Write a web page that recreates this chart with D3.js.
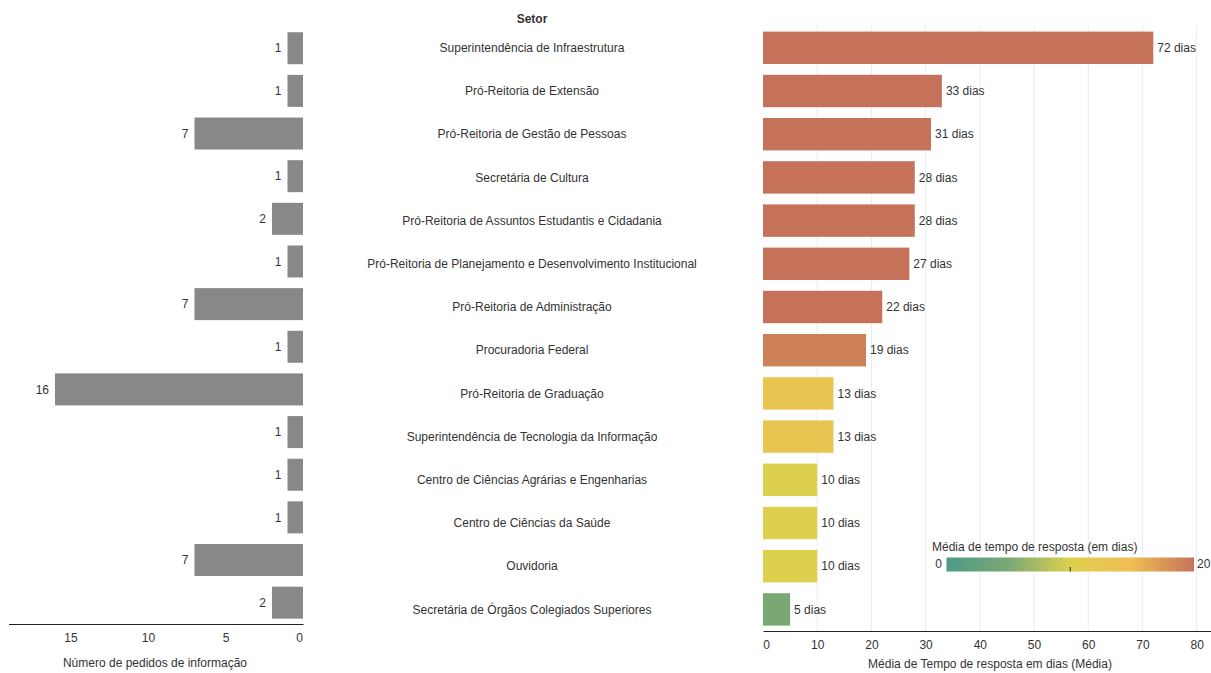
<!DOCTYPE html>
<html>
<head>
<meta charset="utf-8">
<script src="https://cdn.jsdelivr.net/npm/d3@7"></script>
<style>
  html, body { margin: 0; padding: 0; background: #fff; }
  svg text { font-family: "Liberation Sans", Arial, sans-serif; fill: #333; }
</style>
</head>
<body>
<svg id="chart" width="1211" height="673"></svg>
<script>
// Sectors, request counts and mean response time (days)
const setores = [
  "Superintendência de Infraestrutura",
  "Pró-Reitoria de Extensão",
  "Pró-Reitoria de Gestão de Pessoas",
  "Secretária de Cultura",
  "Pró-Reitoria de Assuntos Estudantis e Cidadania",
  "Pró-Reitoria de Planejamento e Desenvolvimento Institucional",
  "Pró-Reitoria de Administração",
  "Procuradoria Federal",
  "Pró-Reitoria de Graduação",
  "Superintendência de Tecnologia da Informação",
  "Centro de Ciências Agrárias e Engenharias",
  "Centro de Ciências da Saúde",
  "Ouvidoria",
  "Secretária de Órgãos Colegiados Superiores"
];
const pedidos = [1, 1, 7, 1, 2, 1, 7, 1, 16, 1, 1, 1, 7, 2];
const mediaDias = [72, 33, 31, 28, 28, 27, 22, 19, 13, 13, 10, 10, 10, 5];
const ticksPedidos = [15, 10, 5, 0];
const ticksDias = [0, 10, 20, 30, 40, 50, 60, 70, 80];
const legendaDominio = [0, 20];

const svg = d3.select("#chart");
const fs = 12;

// Colour ramp for mean response time (clamped at 20 days)
const colorStops = [0, 5, 10, 15, 20];
const colorRange = ["#4d9a89", "#7aa874", "#ddd04e", "#efbd52", "#c6725a"];
const color = d3.scaleLinear().domain(colorStops).range(colorRange).clamp(true);

// ---------- Left panel: number of requests (bars grow leftwards) ----------
const xL = d3.scaleLinear().domain([0, 19]).range([303, 8.5]);
const yL = d3.scaleBand().domain(setores).range([26.9, 624]).paddingInner(0.25).paddingOuter(0.125);

const left = svg.append("g");
left.selectAll("rect").data(setores).join("rect")
  .attr("x", (d, i) => xL(pedidos[i]))
  .attr("y", d => yL(d))
  .attr("width", (d, i) => xL(0) - xL(pedidos[i]))
  .attr("height", yL.bandwidth())
  .attr("fill", "#888888");

left.selectAll("text.val").data(setores).join("text")
  .attr("class", "val")
  .attr("x", (d, i) => xL(pedidos[i]) - 6)
  .attr("y", d => yL(d) + yL.bandwidth() / 2)
  .attr("dy", "0.35em")
  .attr("text-anchor", "end")
  .attr("font-size", fs)
  .text((d, i) => pedidos[i]);

const axL = left.append("g").attr("transform", "translate(0,624)")
  .call(d3.axisBottom(xL).tickValues(ticksPedidos).tickSize(0).tickPadding(9));
axL.select(".domain").attr("stroke", "#222").attr("stroke-width", 1);
axL.selectAll("text").attr("font-size", fs).attr("fill", "#333")
  .attr("font-family", "Liberation Sans, Arial, sans-serif")
  .attr("dx", d => d === 0 ? -4 : 0);

left.append("text")
  .attr("x", 155).attr("y", 663).attr("dy", "0.35em")
  .attr("text-anchor", "middle").attr("font-size", fs)
  .text("Número de pedidos de informação");

// ---------- Right panel: mean response time ----------
const xR = d3.scaleLinear().domain([0, 83]).range([763, 1212.9]);
const yR = d3.scaleBand().domain(setores).range([26.2, 631]).paddingInner(0.25).paddingOuter(0.125);

const right = svg.append("g");

// light vertical gridlines
right.selectAll("line.grid").data(ticksDias.slice(1)).join("line")
  .attr("class", "grid")
  .attr("x1", d => xR(d)).attr("x2", d => xR(d))
  .attr("y1", 26).attr("y2", 631)
  .attr("stroke", "#ececec").attr("stroke-width", 1);

right.selectAll("rect").data(setores).join("rect")
  .attr("x", xR(0))
  .attr("y", d => yR(d))
  .attr("width", (d, i) => xR(mediaDias[i]) - xR(0))
  .attr("height", yR.bandwidth())
  .attr("fill", (d, i) => color(mediaDias[i]));

right.selectAll("text.val").data(setores).join("text")
  .attr("class", "val")
  .attr("x", (d, i) => xR(mediaDias[i]) + 4)
  .attr("y", d => yR(d) + yR.bandwidth() / 2)
  .attr("dy", "0.35em")
  .attr("font-size", fs)
  .text((d, i) => mediaDias[i] + " dias");

const axR = right.append("g").attr("transform", "translate(0,631)")
  .call(d3.axisBottom(xR).tickValues(ticksDias).tickSize(0).tickPadding(9));
axR.select(".domain").attr("stroke", "#222").attr("stroke-width", 1);
axR.selectAll("text").attr("font-size", fs).attr("fill", "#333")
  .attr("font-family", "Liberation Sans, Arial, sans-serif")
  .attr("dx", d => d === 0 ? 3 : 0);

right.append("text")
  .attr("x", 990).attr("y", 664).attr("dy", "0.35em")
  .attr("text-anchor", "middle").attr("font-size", fs)
  .text("Média de Tempo de resposta em dias (Média)");

// ---------- Centre: sector names ----------
svg.append("text")
  .attr("x", 532).attr("y", 19).attr("dy", "0.35em")
  .attr("text-anchor", "middle").attr("font-size", fs).attr("font-weight", "bold")
  .text("Setor");

svg.append("g").selectAll("text").data(setores).join("text")
  .attr("x", 532)
  .attr("y", d => yR(d) + yR.bandwidth() / 2)
  .attr("dy", "0.35em")
  .attr("text-anchor", "middle")
  .attr("font-size", fs)
  .text(d => d);

// ---------- Colour legend ----------
const lg = svg.append("g");
const xLeg = d3.scaleLinear().domain(legendaDominio).range([946.5, 1194]);
const grad = svg.append("defs").append("linearGradient").attr("id", "rampa");
colorStops.forEach((s, i) => {
  grad.append("stop")
    .attr("offset", (xLeg(s) - xLeg(0)) / (xLeg(20) - xLeg(0)))
    .attr("stop-color", colorRange[i]);
});
lg.append("text").attr("x", 932).attr("y", 547).attr("dy", "0.35em")
  .attr("font-size", fs).text("Média de tempo de resposta (em dias)");
lg.append("rect")
  .attr("x", xLeg(0)).attr("y", 557.5)
  .attr("width", xLeg(20) - xLeg(0)).attr("height", 14)
  .attr("fill", "url(#rampa)");
lg.append("line")
  .attr("x1", xLeg(10)).attr("x2", xLeg(10))
  .attr("y1", 567).attr("y2", 571.5)
  .attr("stroke", "#222").attr("stroke-width", 1);
lg.append("text").attr("x", 942).attr("y", 564).attr("dy", "0.35em")
  .attr("text-anchor", "end").attr("font-size", fs).text(legendaDominio[0]);
lg.append("text").attr("x", 1197).attr("y", 564).attr("dy", "0.35em")
  .attr("font-size", fs).text(legendaDominio[1]);
</script>
</body>
</html>
